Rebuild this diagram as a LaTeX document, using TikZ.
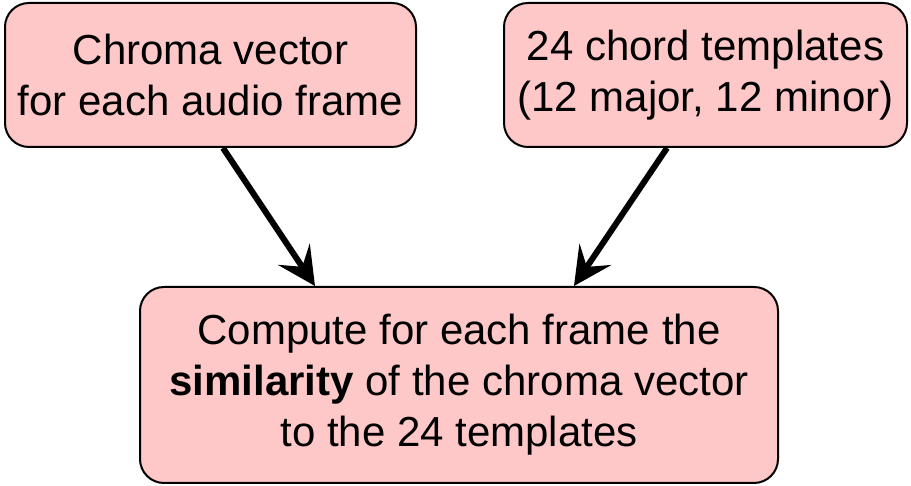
\documentclass[tikz,border=0pt]{standalone}
\usepackage{fontspec}
\setmainfont{Liberation Sans}
\usetikzlibrary{arrows.meta}
\definecolor{boxfill}{HTML}{FFC8C8}
\tikzset{
  box/.style={draw=black, line width=2pt, fill=boxfill, rounded corners=24pt,
    align=center, inner sep=0pt, font=\fontsize{42}{51}\selectfont},
  arr/.style={line width=6pt, -{Stealth[length=38pt,width=38pt,inset=15pt]}}
}
\begin{document}
\begin{tikzpicture}[x=1pt,y=1pt]
\useasboundingbox (0,0) rectangle (911,486);
\node[box, minimum width=411pt, minimum height=144pt] (b1) at (210.5,411)
  {Chroma vector\\for each audio frame};
\node[box, minimum width=403pt, minimum height=144pt] (b2) at (705.5,411)
  {24 chord templates\\(12 major, 12 minor)};
\node[box, minimum width=638pt, minimum height=196pt] (b3) at (459,101)
  {Compute for each frame the\\\textbf{similarity} of the chroma vector\\to the 24 templates};
\draw[arr] ([xshift=12.5pt]b1.south) -- ([xshift=-144pt]b3.north);
\draw[arr] ([xshift=-38.5pt]b2.south) -- ([xshift=115pt]b3.north);
\end{tikzpicture}
\end{document}
